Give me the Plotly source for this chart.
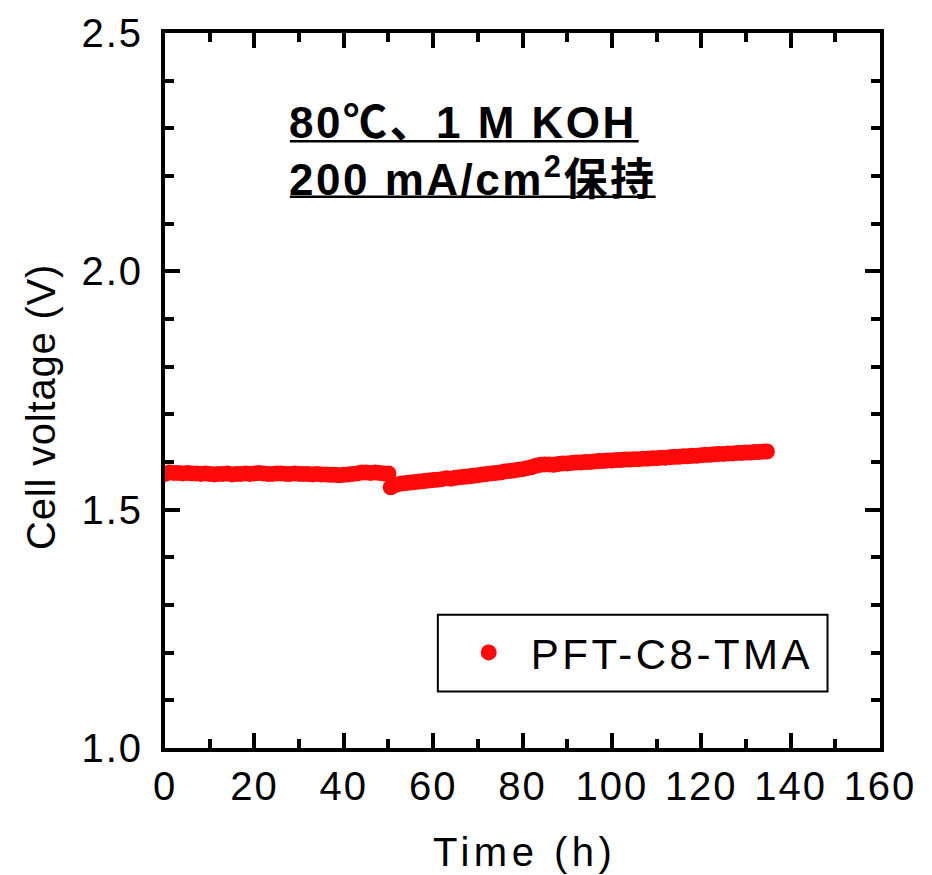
import plotly.graph_objects as go

# ---- data ----
series_name = "PFT-C8-TMA"
time_h = [0, 1, 2, 3, 4, 5, 6, 7, 8, 9, 10, 11, 12, 13, 14, 15, 16, 17, 18, 19,
          20, 21, 22, 23, 24, 25, 26, 27, 28, 29, 30, 31, 32, 33, 34, 35, 36, 37, 38, 39,
          40, 41, 42, 43, 44, 45, 46, 47, 48, 49, 50,
          50.5, 51, 52, 53, 54, 55, 56, 57, 58, 59, 60, 61, 62, 63, 64, 65, 66, 67, 68, 69,
          70, 71, 72, 73, 74, 75, 76, 77, 78, 79, 80, 81, 82, 83, 84, 85, 86, 87, 88, 89,
          90, 91, 92, 93, 94, 95, 96, 97, 98, 99, 100, 101, 102, 103, 104, 105, 106, 107, 108, 109,
          110, 111, 112, 113, 114, 115, 116, 117, 118, 119, 120, 121, 122, 123, 124, 125, 126, 127, 128, 129,
          130, 131, 132, 133, 134, 134.7]
cell_voltage = [1.575, 1.578, 1.577, 1.577, 1.576, 1.577, 1.576, 1.576, 1.575, 1.576,
                1.575, 1.574, 1.575, 1.575, 1.576, 1.574, 1.575, 1.575, 1.576, 1.575,
                1.576, 1.577, 1.576, 1.575, 1.575, 1.576, 1.576, 1.575, 1.575, 1.576,
                1.575, 1.575, 1.575, 1.574, 1.575, 1.574, 1.574, 1.573, 1.573, 1.572,
                1.573, 1.574, 1.575, 1.576, 1.578, 1.578, 1.577, 1.578, 1.577, 1.576, 1.576,
                1.547, 1.550, 1.553, 1.555, 1.556, 1.557, 1.558, 1.559, 1.560, 1.561,
                1.562, 1.563, 1.564, 1.566, 1.565, 1.567, 1.568, 1.569, 1.570, 1.571,
                1.572, 1.574, 1.575, 1.576, 1.577, 1.578, 1.580, 1.581, 1.582, 1.584,
                1.585, 1.587, 1.589, 1.592, 1.594, 1.595, 1.595, 1.594, 1.596, 1.597,
                1.597, 1.598, 1.599, 1.599, 1.600, 1.600, 1.601, 1.602, 1.602, 1.603,
                1.603, 1.604, 1.604, 1.605, 1.605, 1.606, 1.606, 1.607, 1.607, 1.608,
                1.608, 1.609, 1.609, 1.610, 1.611, 1.611, 1.612, 1.612, 1.613, 1.613,
                1.614, 1.615, 1.615, 1.616, 1.617, 1.617, 1.618, 1.618, 1.619, 1.619,
                1.620, 1.620, 1.621, 1.621, 1.622, 1.622]

x_tick_vals = [0, 20, 40, 60, 80, 100, 120, 140, 160]
x_tick_text = ["0", "20", "40", "60", "80", "100", "120", "140", "160"]
y_tick_vals = [1.0, 1.5, 2.0, 2.5]
y_tick_text = ["1.0", "1.5", "2.0", "2.5"]

x_title = "Time (h)"
y_title = "Cell voltage (V)"
condition_line1 = "80℃、1 M KOH"
condition_line2 = "200 mA/cm<sup>2</sup>保持"

FONT = "Liberation Sans, Arial, Noto Sans CJK JP, sans-serif"
RED = "#fe0a0a"


def spaced(s, px):
    return f'<span style="letter-spacing:{px}px">{s}</span>'


fig = go.Figure()
fig.add_trace(go.Scatter(
    x=time_h, y=cell_voltage, mode="markers", name=spaced(series_name, 3.5),
    marker=dict(color=RED, size=16, line=dict(width=0)),
))

axis_common = dict(
    showline=True, linecolor="black", linewidth=4, mirror="allticks",
    ticks="inside", tickwidth=4, ticklen=15, tickcolor="black",
    showgrid=False, zeroline=False, automargin=False,
    tickfont=dict(family=FONT, size=40, color="black"),
)

fig.update_xaxes(
    range=[0, 160], tickmode="array", tickvals=x_tick_vals,
    ticktext=[spaced(t, 2) for t in x_tick_text],
    minor=dict(dtick=10, ticks="inside", ticklen=9, tickwidth=4, tickcolor="black"),
    ticklabelstandoff=0,
    **axis_common,
)
fig.update_yaxes(
    range=[1.0, 2.5], tickmode="array", tickvals=y_tick_vals,
    ticktext=[spaced(t, 2) for t in y_tick_text],
    minor=dict(dtick=0.1, ticks="inside", ticklen=9, tickwidth=4, tickcolor="black"),
    ticklabelstandoff=10,
    **axis_common,
)

# axis titles
fig.add_annotation(
    xref="paper", yref="paper", x=0.5024, y=-0.1455, xanchor="center", yanchor="middle",
    text=spaced(x_title, 4.5), showarrow=False,
    font=dict(family=FONT, size=40, color="black"),
)
fig.add_annotation(
    xref="paper", yref="paper", x=-0.1733, y=0.477, xanchor="center", yanchor="middle",
    text=spaced(y_title, 0.8), showarrow=False, textangle=-90,
    font=dict(family=FONT, size=40, color="black"),
)

# condition text
fig.add_annotation(
    xref="paper", yref="paper", x=0.1705, y=0.912, xanchor="left", yanchor="top",
    text=f"<b>{spaced(condition_line1, 2.5)}</b><br><b>{spaced(condition_line2, 2.5)}</b>",
    showarrow=False, align="left",
    font=dict(family=FONT, size=44, color="black"),
)
# underlines of the condition text
fig.add_shape(type="line", xref="paper", yref="paper",
              x0=0.1747, x1=0.6625, y0=0.8485, y1=0.8485,
              line=dict(color="black", width=2.5), layer="above")
fig.add_shape(type="line", xref="paper", yref="paper",
              x0=0.1747, x1=0.6862, y0=0.7710, y1=0.7710,
              line=dict(color="black", width=2.5), layer="above")

# legend frame (the legend itself is drawn by plotly inside it)
fig.add_shape(
    type="rect", xref="paper", yref="paper",
    x0=0.3816, x1=0.9266, y0=0.0789, y1=0.1865,
    line=dict(color="black", width=2), fillcolor="white", layer="below",
)

fig.update_layout(
    width=932, height=875,
    margin=dict(l=157, r=59.5, t=24.5, b=134.5, pad=0),
    paper_bgcolor="white", plot_bgcolor="white",
    showlegend=True,
    legend=dict(
        x=0.394, y=0.1334, xanchor="left", yanchor="middle",
        borderwidth=0, bgcolor="rgba(0,0,0,0)",
        font=dict(family=FONT, size=42, color="black"),
        itemwidth=74,
    ),
)

fig.write_html("out.html")
